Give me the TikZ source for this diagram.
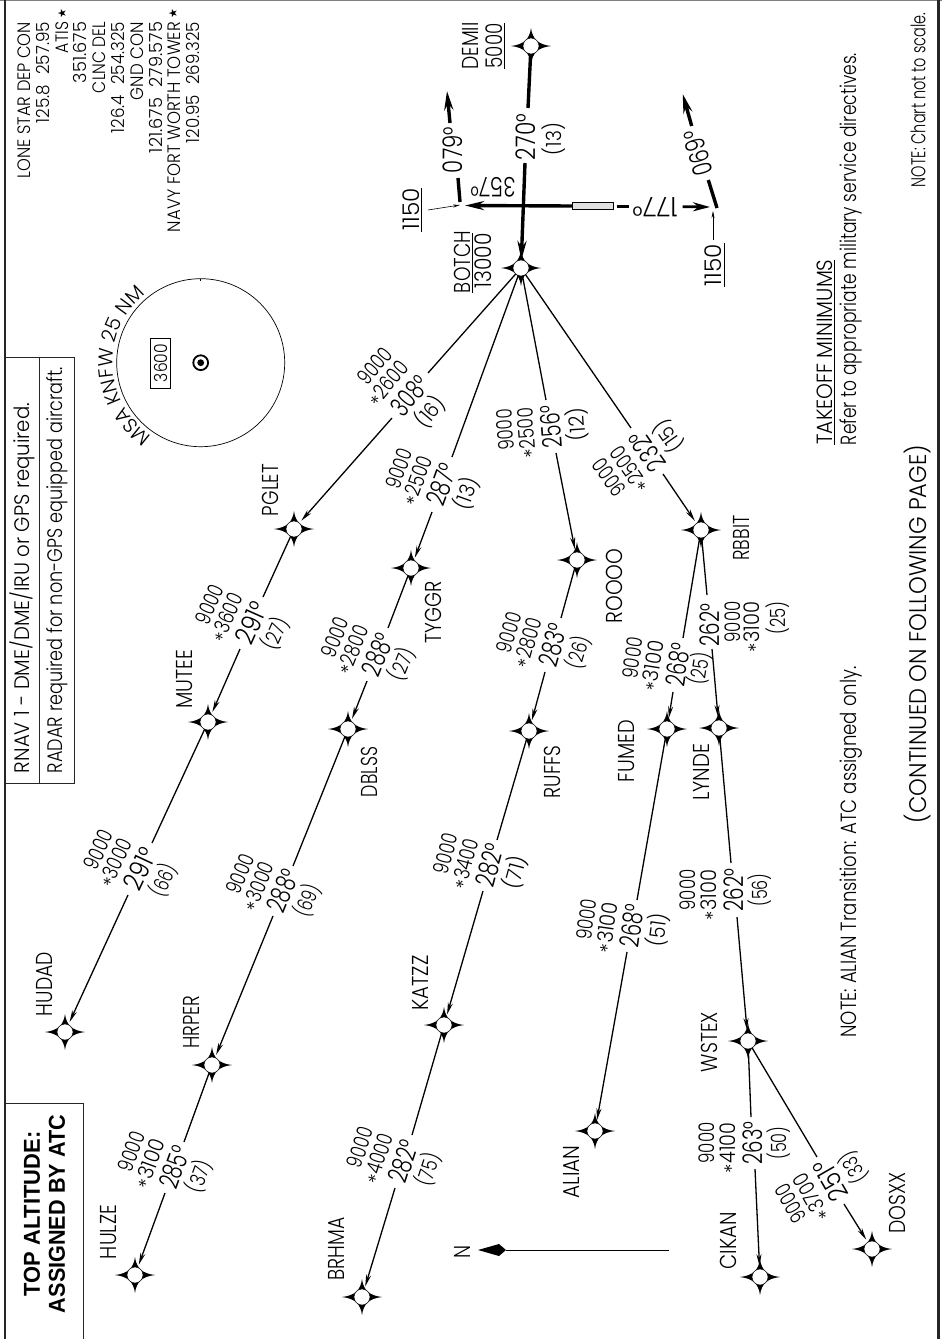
\documentclass[tikz,border=0pt]{standalone}
\usepackage{fontspec}
\setmainfont{Poppins}[UprightFont={* Light}]
\newfontfamily\symf{DejaVu Sans}
\newfontfamily\boldf{Liberation Sans}[BoldFont={Liberation Sans Bold}]
\usetikzlibrary{arrows.meta,calc,decorations.text}
\newcommand\fit[3]{\resizebox{#1pt}{\height}{\fontsize{#2pt}{#2pt}\selectfont #3}}
\tikzset{
  txt/.style={inner sep=0pt,outer sep=0pt,rotate=90},
  rtxt/.style={inner sep=0pt,outer sep=0pt,rotate=90,anchor=east},
  gtxt/.style={inner sep=0pt,outer sep=0pt},
  fixnode/.style={circle,draw=black,line width=.5pt,fill=white,minimum size=16pt,inner sep=0pt,outer sep=0pt},
  leg/.style={line width=1.3pt,black},
  legarrow/.style={line width=1.3pt,black,shorten >=3pt,-{Stealth[length=12pt,width=5pt]}},
  heavy/.style={line width=3.4pt,black},
  heavyarrow/.style={line width=3.4pt,black,-{Stealth[length=19pt,width=9pt]}},
  thinarrow/.style={line width=.6pt,black,-{Stealth[length=7pt,width=3pt]}},
  rule/.style={line width=.7pt,black},
  boxline/.style={line width=.8pt,black!85},
  frameline/.style={line width=2.4pt,black!85}
}
\newcommand\fixpt[3]{%
  \fill[black] (#2,#3-18) .. controls (#2+1.5,#3-7) and (#2+7,#3-1.5) .. (#2+20,#3)
     .. controls (#2+7,#3+1.5) and (#2+1.5,#3+7) .. (#2,#3+18)
     .. controls (#2-1.5,#3+7) and (#2-7,#3+1.5) .. (#2-20,#3)
     .. controls (#2-7,#3-1.5) and (#2-1.5,#3-7) .. (#2,#3-18) -- cycle;
  \node[fixnode] (#1) at (#2,#3) {};}
\newcommand\starred[1]{\llap{\fontsize{20pt}{20pt}\selectfont\raisebox{-4pt}{*}\kern.5pt}\fit{41}{21.5}{#1}}
\def\dstoff{26}
% id, gap a, gap b, angle, alt1, alt2, course, dist
\newcommand\leglab[8]{%
  \node[gtxt,rotate=#4] (#1alt) at ($(#2)!.5!(#3)+({-46*sin(#4)},{-46*cos(#4)})$) {\fit{41}{21.5}{#5}};
  \node[gtxt,rotate=#4] (#1min) at ($(#2)!.5!(#3)+({-23*sin(#4)},{-23*cos(#4)})$) {\starred{#6}};
  \node[gtxt,rotate=#4] (#1crs) at ($(#2)!.5!(#3)$) {\fit{43}{27}{#7}};
  \node[gtxt,rotate=#4] (#1dst) at ($(#2)!.5!(#3)+({\dstoff*sin(#4)},{\dstoff*cos(#4)})$) {\fit{33}{21}{#8}};
}
\begin{document}
\begin{tikzpicture}[x=1pt,y=-1pt]
\useasboundingbox (0,0) rectangle (942,1339);
\fill[white] (0,0) rectangle (942,1339);
% frame
\draw[line width=1pt,black!50] (0,0) -- (942,0);
\draw[frameline] (5,0) -- (5,1339);
\draw[frameline] (938.5,0) -- (938.5,1339);
% boxes
\draw[boxline] (5,357) -- (74,357) -- (74,783) -- (5,783);
\draw[boxline] (39,357) -- (39,783);
\draw[boxline] (5,1103) -- (83.5,1103) -- (83.5,1339);
\node[txt] (rnavtxt) at (22,588) {\fit{370}{21}{RNAV 1 - DME/DME/IRU or GPS required.}};
\node[txt] (radartxt) at (57,570) {\fit{406}{21}{RADAR required for non-GPS equipped aircraft.}};
\node[txt] (top1) at (32,1214) {\fit{165}{23}{\boldf\bfseries TOP ALTITUDE:}};
\node[txt] (top2) at (57,1214) {\fit{198}{23}{\boldf\bfseries ASSIGNED BY ATC}};
% comms
\node[rtxt] (f1) at (24,22) {\fit{156}{18}{LONE STAR DEP CON}};
\node[rtxt] (f2) at (43,22) {\fit{101}{18}{125.8\hspace{.6em}257.95}};
\node[rtxt] (f3) at (62,22) {\fit{31}{18}{ATIS}};
\node[rtxt] (f4) at (80,22) {\fit{61}{18}{351.675}};
\node[rtxt] (f5) at (99,22) {\fit{71}{18}{CLNC DEL}};
\node[rtxt] (f6) at (118,22) {\fit{111}{18}{126.4\hspace{.6em}254.325}};
\node[rtxt] (f7) at (137,22) {\fit{78}{18}{GND CON}};
\node[rtxt] (f8) at (156,22) {\fit{131}{18}{121.675\hspace{.6em}279.575}};
\node[rtxt] (f9) at (174,22) {\fit{210}{18}{NAVY FORT WORTH TOWER}};
\node[rtxt] (f10) at (193,22) {\fit{121}{18}{120.95\hspace{.6em}269.325}};
\node[txt] (star1) at (62,14) {\fontsize{11pt}{11pt}\selectfont\symf ★};
\node[txt] (star2) at (173,14) {\fontsize{11pt}{11pt}\selectfont\symf ★};
% MSA
\draw[line width=.7pt] (200.7,362.7) circle[radius=84];
\draw[line width=.7pt] (200,278.7) -- (200,280.5);
\path[decorate,decoration={text along path,text align=center,text={|\fontsize{20pt}{20pt}\selectfont|MSA KNFW 25 NM}}]
  (200.7,362.7) ++(127:88) arc[start angle=127,end angle=228,radius=88];
\node[draw,line width=.7pt,minimum width=20pt,minimum height=50pt,inner sep=0pt] (msabox) at (160.5,363) {\rotatebox{90}{\fit{38}{18}{3600}}};
\draw[line width=1.8pt] (200.7,362.7) circle[radius=7.4];
\fill (200.7,362.7) circle[radius=3.4];
% fixes
\fixpt{demii}{531}{46}
\fixpt{botch}{521}{268}
\fixpt{pglet}{294}{529}
\fixpt{mutee}{208}{722}
\fixpt{tyggr}{411}{568}
\fixpt{dblss}{348}{729}
\fixpt{roooo}{577}{560}
\fixpt{ruffs}{529}{731}
\fixpt{rbbit}{701}{530}
\fixpt{fumed}{667}{729}
\fixpt{lynde}{719}{728}
\fixpt{hudad}{65}{1032}
\fixpt{hrper}{212}{1065}
\fixpt{hulze}{135}{1275}
\fixpt{katzz}{444}{1025}
\fixpt{brhma}{362}{1297}
\fixpt{alian}{595}{1131}
\fixpt{wstex}{748}{1041}
\fixpt{cikan}{760}{1277}
\fixpt{dosxx}{872}{1249}
% fix names
\node[txt] (ldemii) at (470,46) {\fit{47}{23}{DEMII}};
\node[txt] (l5000) at (494,46) {\fit{45}{23}{5000}};
\draw[rule] (504,23) -- (504,69);
\node[txt] (lbotch) at (462,262) {\fit{62}{23}{BOTCH}};
\node[txt] (l13000) at (483,261) {\fit{55}{23}{13000}};
\draw[rule] (472.5,233) -- (472.5,293);
\node[txt] (lpglet) at (270,490) {\fit{52}{23}{PGLET}};
\node[txt] (lmutee) at (185,679) {\fit{59}{23}{MUTEE}};
\node[txt] (ltyggr) at (433,612) {\fit{62}{23}{TYGGR}};
\node[txt] (ldblss) at (369,772) {\fit{50}{23}{DBLSS}};
\node[txt] (lroooo) at (614,586) {\fit{75}{23}{ROOOO}};
\node[txt] (lruffs) at (552,772) {\fit{53}{23}{RUFFS}};
\node[txt] (lrbbit) at (741,538) {\fit{45}{23}{RBBIT}};
\node[txt] (lfumed) at (627,751) {\fit{62}{23}{FUMED}};
\node[txt] (llynde) at (701,772) {\fit{57}{23}{LYNDE}};
\node[txt] (lhudad) at (45,984) {\fit{64}{23}{HUDAD}};
\node[txt] (lhrper) at (191,1022) {\fit{53}{23}{HRPER}};
\node[txt] (lhulze) at (109,1232) {\fit{54}{23}{HULZE}};
\node[txt] (lkatzz) at (420,983) {\fit{55}{23}{KATZZ}};
\node[txt] (lbrhma) at (336,1249) {\fit{63}{23}{BRHMA}};
\node[txt] (lalian) at (571,1172) {\fit{53}{23}{ALIAN}};
\node[txt] (lwstex) at (709,1042) {\fit{60}{23}{WSTEX}};
\node[txt] (lcikan) at (728,1241) {\fit{57}{23}{CIKAN}};
\node[txt] (ldosxx) at (897,1203) {\fit{61}{23}{DOSXX}};
% gap coordinates
\coordinate (a1) at (428,373); \coordinate (b1) at (392,418);
\coordinate (a2) at (263,597); \coordinate (b2) at (240,649);
\coordinate (a3) at (152,843); \coordinate (b3) at (128,895);
\coordinate (a4) at (452,457); \coordinate (b4) at (432,512);
\coordinate (a5) at (388,628); \coordinate (b5) at (367,681);
\coordinate (a6) at (293,866); \coordinate (b6) at (273,916);
\coordinate (a7) at (184,1142); \coordinate (b7) at (165,1193);
\coordinate (a8) at (546,400); \coordinate (b8) at (556,453);
\coordinate (a9) at (561,618); \coordinate (b9) at (545,672);
\coordinate (a10) at (497,840); \coordinate (b10) at (483,891);
\coordinate (a11) at (412,1135); \coordinate (b11) at (395,1188);
\coordinate (a12) at (631,428); \coordinate (b12) at (663,474);
\coordinate (a13) at (683,638); \coordinate (b13) at (673,692);
\coordinate (a14) at (637,900); \coordinate (b14) at (627,952);
\coordinate (a15) at (707,595); \coordinate (b15) at (712,649);
\coordinate (a16) at (731,863); \coordinate (b16) at (737,917);
\coordinate (a17) at (751,1117); \coordinate (b17) at (755,1169);
\coordinate (a18) at (817,1157); \coordinate (b18) at (844,1204);
% legs
\draw[leg] (botch) -- (a1); \draw[legarrow] (b1) -- (pglet);
\draw[leg] (pglet) -- (a2); \draw[legarrow] (b2) -- (mutee);
\draw[leg] (mutee) -- (a3); \draw[legarrow] (b3) -- (hudad);
\draw[leg] (botch) -- (a4); \draw[legarrow] (b4) -- (tyggr);
\draw[leg] (tyggr) -- (a5); \draw[legarrow] (b5) -- (dblss);
\draw[leg] (dblss) -- (a6); \draw[legarrow] (b6) -- (hrper);
\draw[leg] (hrper) -- (a7); \draw[legarrow] (b7) -- (hulze);
\draw[leg] (botch) -- (a8); \draw[legarrow] (b8) -- (roooo);
\draw[leg] (roooo) -- (a9); \draw[legarrow] (b9) -- (ruffs);
\draw[leg] (ruffs) -- (a10); \draw[legarrow] (b10) -- (katzz);
\draw[leg] (katzz) -- (a11); \draw[legarrow] (b11) -- (brhma);
\draw[leg] (botch) -- (a12); \draw[legarrow] (b12) -- (rbbit);
\draw[leg] (rbbit) -- (a13); \draw[legarrow] (b13) -- (fumed);
\draw[leg] (fumed) -- (a14); \draw[legarrow] (b14) -- (alian);
\draw[leg] (rbbit) -- (a15); \draw[legarrow] (b15) -- (lynde);
\draw[leg] (lynde) -- (a16); \draw[legarrow] (b16) -- (wstex);
\draw[leg] (wstex) -- (a17); \draw[legarrow] (b17) -- (cikan);
\draw[leg] (wstex) -- (a18); \draw[legarrow] (b18) -- (dosxx);
% leg labels
\leglab{p}{a1}{b1}{50}{9000}{2600}{308°}{(16)}
\leglab{m}{a2}{b2}{66}{9000}{3600}{291°}{(27)}
\leglab{h}{a3}{b3}{65}{9000}{3000}{291°}{(66)}
\leglab{t}{a4}{b4}{70}{9000}{2500}{287°}{(13)}
\leglab{d}{a5}{b5}{68}{9000}{2800}{288°}{(27)}
\leglab{r}{a6}{b6}{68}{9000}{3000}{288°}{(69)}
\leglab{u}{a7}{b7}{70}{9000}{3100}{285°}{(37)}
\leglab{o}{a8}{b8}{94}{9000}{2500}{256°}{(12)}
\leglab{f}{a9}{b9}{74}{9000}{2800}{283°}{(26)}
\leglab{k}{a10}{b10}{75}{9000}{3400}{282°}{(71)}
\leglab{b}{a11}{b11}{72}{9000}{4000}{282°}{(75)}
\leglab{i}{a12}{b12}{125}{9000}{2500}{232°}{(15)}
\def\dstoff{22}
\leglab{e}{a13}{b13}{81}{9000}{3100}{268°}{(25)}
\def\dstoff{26}
\leglab{n}{a14}{b14}{82}{9000}{3100}{268°}{(51)}
\leglab{w}{a16}{b16}{90}{9000}{3100}{262°}{(56)}
\leglab{c}{a17}{b17}{90}{9000}{4100}{263°}{(50)}
\leglab{s}{a18}{b18}{120}{9000}{3700}{251°}{(33)}
% RBBIT-LYNDE label (course first)
\node[txt] (ycrs) at (710,625) {\fit{43}{27}{262°}};
\node[txt] (yalt) at (733,622) {\fit{41}{21.5}{9000}};
\node[txt] (ymin) at (754,622) {\starred{3100}};
\node[txt] (ydst) at (778,618) {\fit{33}{21}{(25)}};
% departure
\coordinate (g270a) at (528,108); \coordinate (g270b) at (525,163);
\draw[heavy] (demii) -- (g270a);
\draw[heavyarrow] (g270b) -- (botch);
\node[txt] (c270) at (526,137) {\fit{46}{27}{270°}};
\node[txt] (d270) at (554,139) {\fit{32}{21}{(13)}};
\node[draw=black,line width=.7pt,fill=black!12,minimum width=41pt,minimum height=7.5pt,inner sep=0pt] (rwy) at (593.2,206) {};
\coordinate (nturn) at (460,205);
\draw[heavyarrow] (rwy.west) -- (465,205.5);
\node[gtxt,rotate=180] (c357) at (493,187.5) {\fit{45}{27}{357°}};
\coordinate (n1) at (458,178); \coordinate (n2) at (450,123); \coordinate (n3) at (447,91);
\draw[heavy] (460,202) -- (n1);
\draw[heavyarrow] (n2) -- (n3);
\node[txt] (c079) at (453,150) {\fit{46}{27}{079°}};
\coordinate (s1) at (616.7,206.7); \coordinate (s2) at (629.3,206.7);
\draw[heavy] (s1) -- (s2);
\node[gtxt,rotate=180] (c177) at (655,207) {\fit{45}{27}{177°}};
\coordinate (s3) at (682.7,206.7); \coordinate (s4) at (710,207);
\draw[line width=2.8pt,-{Stealth[length=17pt,width=9pt]}] (s3) -- (s4);
\coordinate (t1) at (717,208); \coordinate (t2) at (708.3,180);
\draw[heavy] (t1) -- (t2);
\node[gtxt,rotate=106] (c069) at (698,153) {\fit{46}{27}{069°}};
\coordinate (t3) at (691.7,126); \coordinate (t4) at (682.7,94);
\draw[heavyarrow] (t3) -- (t4);
% 1150 labels
\node[txt] (alt1) at (411,209) {\fit{42}{23}{1150}};
\draw[rule] (421.5,188) -- (421.5,232);
\coordinate (p1) at (428,210); \coordinate (p2) at (460,205);
\draw[thinarrow] (p1) -- (p2);
\node[txt] (alt2) at (713,265) {\fit{42}{23}{1150}};
\draw[rule] (724,243) -- (724,287);
\coordinate (q1) at (713,240); \coordinate (q2) at (713,211);
\draw[thinarrow] (q1) -- (q2);
% notes
\node[txt] (tom) at (825,352) {\fit{185}{22}{TAKEOFF MINIMUMS}};
\draw[rule] (834.5,260) -- (834.5,445);
\node[txt] (refer) at (851,249) {\fit{392}{22}{Refer to appropriate military service directives.}};
\node[txt] (note1) at (918,100) {\fit{174}{20}{NOTE: Chart not to scale.}};
\node[txt] (cont) at (918,634) {\fit{378}{24}{(CONTINUED ON FOLLOWING PAGE)}};
\node[txt] (note2) at (851,852) {\fit{371}{22}{NOTE: ALIAN Transition: ATC assigned only.}};
% north arrow
\node[txt] (north) at (462,1252) {\fit{13}{23}{N}};
\coordinate (na) at (669,1250); \coordinate (nb) at (506,1250);
\draw[line width=.9pt] (na) -- (nb);
\fill (478,1250) -- (499,1244) -- (506,1250) -- (499,1256) -- cycle;
\end{tikzpicture}
\end{document}
